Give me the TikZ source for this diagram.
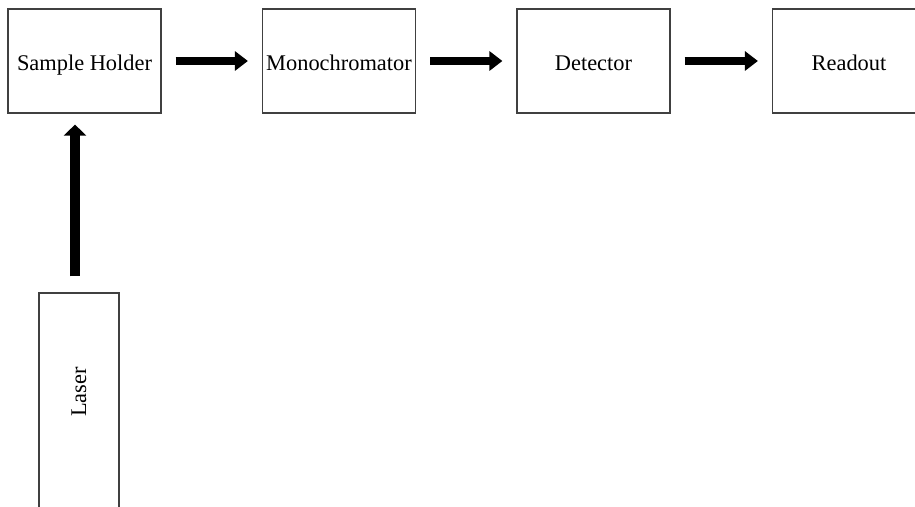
\documentclass[tikz,border=0pt]{standalone}
\usepackage{fontspec}
\setmainfont{Liberation Serif}
\usetikzlibrary{arrows.meta}

\tikzset{
	stage/.style = {draw=black!75, line width=0.6pt, minimum width=76.5pt, minimum height=52pt, inner sep=0pt, text height=2.4ex, text depth=0.3ex, font=\fontsize{11.2}{13}\selectfont},
	flow/.style = {line width=4pt, -{Triangle[width=9.5pt, length=6.5pt]}, shorten <=7pt, shorten >=7pt}
}

\begin{document}
\begin{tikzpicture}[x=0.5pt, y=-0.5pt]
	\clip (0,0) rectangle (915,507);
	% row of stages
	\node[stage] (holder) at (84.5,61) {Sample Holder};
	\node[stage] (mono) at (339,61) {Monochromator};
	\node[stage] (det) at (593.5,61) {Detector};
	\node[stage] (read) at (849,61) {Readout};
	% laser below the holder
	\node[stage, minimum width=40pt, minimum height=118.5pt] (laser) at (79,411.5) {};
	\node[rotate=90, font=\fontsize{11.2}{13}\selectfont] (lasertext) at (79,392) {Laser};
	\draw[flow] (holder) -- (mono);
	\draw[flow] (mono) -- (det);
	\draw[flow] (det) -- (read);
	\draw[flow, line width=5pt, -{Triangle[width=11pt, length=5.5pt]}, shorten <=8pt, shorten >=5.5pt]
		([xshift=-2]laser.north) -- ([xshift=-2]laser.north |- holder.south);
\end{tikzpicture}
\end{document}
